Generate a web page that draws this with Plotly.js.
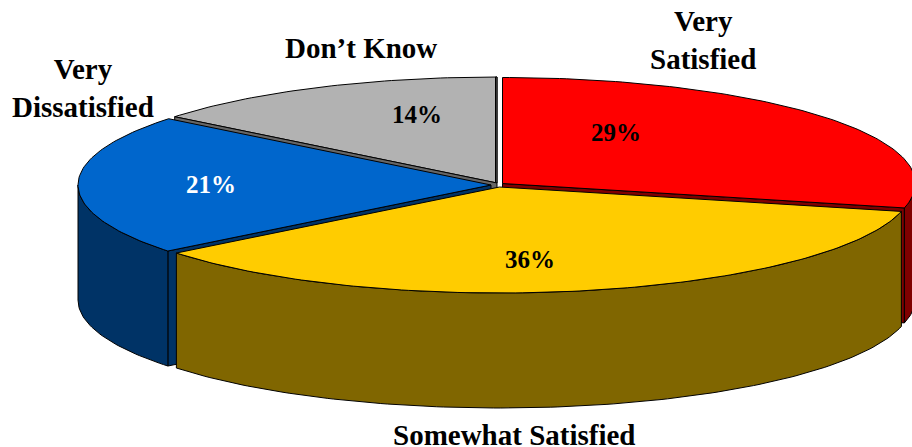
<!DOCTYPE html>
<html>
<head>
<meta charset="utf-8">
<script src="https://cdn.plot.ly/plotly-3.0.1.min.js"></script>
<style>html,body{margin:0;padding:0;background:#fff}#chart{width:912px;height:447px}</style>
</head>
<body>
<div id="chart"></div>
<script>
// Data
const categories = ['Very Satisfied', 'Somewhat Satisfied', 'Very Dissatisfied', "Don\u2019t Know"];
const shares = [28.7, 35.6, 21.45, 14.25];
const sliceLabels = ['Very<br>Satisfied', 'Somewhat Satisfied', 'Very<br>Dissatisfied', 'Don\u2019t Know'];
const topColors = ['#ff0000', '#ffcc00', '#0066cc', '#b2b2b2'];
const sideColors = ['#800000', '#806600', '#003366', '#666666'];
const pctColors = ['#000000', '#000000', '#ffffff', '#000000'];

// Projection of the tilted pie
const RX = 413, RY = 106, DEPTH = 115;
const centres = [[502.5, 183.5], [499.5, 187], [491, 185], [497, 183]];
const labelPos = [[703, 40], [514, 435], [83, 88], [361, 48]];
const pctPos = [[616, 132], [530, 259], [211, 184], [417, 114]];

const total = shares.reduce((a, b) => a + b, 0);
const bounds = [];
let acc = 0;
shares.forEach(v => { const a0 = acc / total * 360; acc += v; bounds.push([a0, acc / total * 360]); });

function pt(c, deg, dz) {
  const r = deg * Math.PI / 180;
  return [c[0] + RX * Math.sin(r), c[1] - RY * Math.cos(r) + (dz || 0)];
}
function arc(c, a0, a1, dz) {
  const out = [];
  const n = Math.max(2, Math.ceil(Math.abs(a1 - a0)));
  for (let i = 0; i <= n; i++) out.push(pt(c, a0 + (a1 - a0) * i / n, dz));
  return out;
}
function poly(points, fill, name) {
  const closed = points.concat([points[0]]);
  return {
    type: 'scatter', mode: 'lines', name: name, fill: 'toself', fillcolor: fill,
    x: closed.map(p => p[0]), y: closed.map(p => p[1]),
    line: { color: '#000000', width: 1 }, hoverinfo: 'skip', showlegend: false
  };
}
function topFace(i) {
  const c = centres[i], b = bounds[i];
  return poly([c].concat(arc(c, b[0], b[1])), topColors[i], categories[i] + ' top');
}
function cutFace(i, deg) {
  const c = centres[i], e = pt(c, deg);
  return poly([c, e, [e[0], e[1] + DEPTH], [c[0], c[1] + DEPTH]], sideColors[i], categories[i] + ' cut');
}
function wall(i, a0, a1) {
  const c = centres[i];
  return poly(arc(c, a0, a1).concat(arc(c, a1, a0, DEPTH)), sideColors[i], categories[i] + ' wall');
}
function sliver(i, deg, dx) {
  const c = centres[i], e = pt(c, deg);
  return poly([c, e, [e[0] + dx, e[1]], [c[0] + dx, c[1]]], sideColors[i], categories[i] + ' edge');
}

const traces = [
  topFace(3),
  sliver(3, bounds[3][1], -1.5),
  cutFace(3, bounds[3][0]),
  cutFace(2, bounds[2][0]),
  wall(2, bounds[2][0], 270),
  topFace(2),
  cutFace(0, bounds[0][1]),
  wall(0, 90, bounds[0][1]),
  topFace(0),
  wall(1, bounds[1][0], bounds[1][1]),
  topFace(1)
];

const annotations = [];
categories.forEach((_, i) => {
  annotations.push({
    x: labelPos[i][0], y: labelPos[i][1], xref: 'x', yref: 'y', showarrow: false,
    text: sliceLabels[i], align: 'center',
    font: { family: 'Liberation Serif', size: 29, color: '#000000', weight: 700 }
  });
  annotations.push({
    x: pctPos[i][0], y: pctPos[i][1], xref: 'x', yref: 'y', showarrow: false,
    text: Math.round(shares[i]) + '%',
    font: { family: 'Liberation Serif', size: 25, color: pctColors[i], weight: 700 }
  });
});

Plotly.newPlot('chart', traces, {
  width: 912, height: 447,
  margin: { l: 0, r: 0, t: 0, b: 0 },
  paper_bgcolor: '#ffffff', plot_bgcolor: '#ffffff',
  xaxis: { range: [0, 912], visible: false, fixedrange: true },
  yaxis: { range: [447, 0], visible: false, fixedrange: true },
  showlegend: false,
  annotations: annotations
}, { displayModeBar: false, staticPlot: true });
</script>
</body>
</html>
